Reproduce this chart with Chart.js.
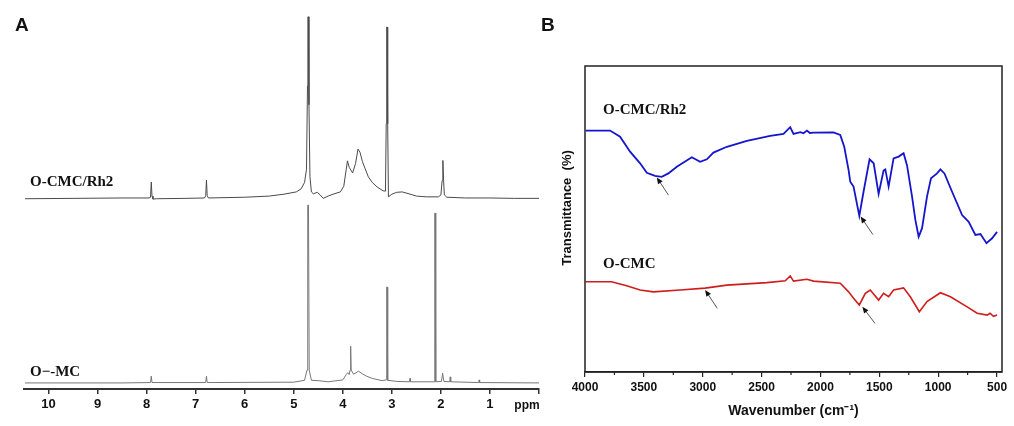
<!DOCTYPE html>
<html>
<head>
<meta charset="utf-8">
<script src="https://cdn.jsdelivr.net/npm/chart.js@4.4.0/dist/chart.umd.min.js"></script>
<style>
  html, body { margin: 0; padding: 0; background: #fff; }
  #wrap { position: relative; width: 1014px; height: 426px; overflow: hidden; }
  canvas { position: absolute; top: 0; }
  #nmr { left: 0; }
  #ftir { left: 540px; }
</style>
</head>
<body>
<div id="wrap">
  <canvas id="nmr" width="545" height="426"></canvas>
  <canvas id="ftir" width="474" height="426"></canvas>
</div>
<script>
// ---- panel A : 1H NMR (ppm / relative intensity, stacked) ----
var rh2Ppm = [10.48, 9.5, 8.5, 7.95, 7.92, 7.905, 7.89, 7.87, 7.8, 7.2, 6.82, 6.795, 6.78, 6.765, 6.74,
  6.0, 5.5, 5.2, 4.95, 4.85, 4.78, 4.74, 4.72, 4.712, 4.70, 4.69, 4.67, 4.64, 4.60, 4.52, 4.46, 4.40,
  4.3, 4.2, 4.05, 3.98, 3.93, 3.905, 3.87, 3.80, 3.74, 3.69, 3.65, 3.60, 3.55, 3.48, 3.40, 3.30, 3.18,
  3.13, 3.115, 3.105, 3.095, 3.085, 3.07, 3.0, 2.9, 2.79, 2.65, 2.5, 2.3, 2.05, 2.0, 1.975, 1.96,
  1.945, 1.93, 1.88, 1.5, 1.0, 0.5, 0.0];
var rh2Int = [50.2, 50.3, 50.4, 50.4, 50.6, 54.6, 50.9, 50.1, 50.2, 50.3, 50.4, 51.0, 55.1, 51.0, 50.4,
  50.6, 50.9, 51.4, 52.0, 52.8, 54.5, 58, 80, 98.2, 98.2, 75, 56, 52, 51.5, 51.9, 51.2, 50.3,
  50.9, 51.4, 52.0, 53.5, 58, 60.2, 58.5, 57.0, 59.5, 63.3, 62.5, 60, 58.3, 56, 54.5, 53.3, 52.3,
  52.2, 70, 95.5, 95.5, 70, 50.7, 51.4, 51.9, 52.0, 51.5, 50.9, 50.7, 50.7, 51.2, 55, 60.3,
  55, 51.2, 50.6, 50.4, 50.4, 50.3, 50.3];

var cmcPpm = [10.48, 8.5, 7.92, 7.905, 7.89, 6.795, 6.78, 6.765, 5.0, 4.78, 4.73, 4.715, 4.70, 4.685,
  4.64, 4.5, 4.3, 4.0, 3.93, 3.90, 3.87, 3.85, 3.84, 3.83, 3.78, 3.68, 3.6, 3.52, 3.4, 3.2, 3.115,
  3.105, 3.095, 3.085, 2.9, 2.64, 2.63, 2.62, 2.14, 2.125, 2.115, 2.105, 1.99, 1.965, 1.94, 1.82,
  1.81, 1.80, 1.23, 1.22, 1.21, 0.0];
var cmcInt = [1.6, 1.6, 1.7, 3.4, 1.7, 1.7, 3.4, 1.7, 1.8, 2.3, 5, 48.5, 48.5, 5,
  2.3, 2.2, 1.9, 2.4, 3.8, 4.3, 3.8, 5, 11.3, 5, 3.9, 4.7, 4.0, 3.4, 2.8, 2.2, 2.4,
  26.9, 26.9, 2.3, 2.0, 1.9, 2.8, 1.9, 1.9, 46.4, 46.4, 1.9, 2.0, 4.2, 2.0, 1.9,
  3.2, 1.9, 1.7, 2.4, 1.7, 1.6];

var ppmTicks = [10, 9, 8, 7, 6, 5, 4, 3, 2, 1, 0];

// ---- panel B : FTIR (wavenumber / transmittance, offset) ----
var rh2Wn = [3994, 3787, 3702, 3617, 3532, 3475, 3405, 3348, 3292, 3220, 3093, 3022, 2965, 2909, 2795,
  2625, 2427, 2314, 2257, 2229, 2170, 2144, 2115, 2090, 2059, 1889, 1832, 1798, 1761, 1747, 1719,
  1670, 1634, 1583, 1548, 1506, 1464, 1449, 1421, 1379, 1336, 1294, 1265, 1222, 1194, 1166, 1137,
  1095, 1061, 1010, 981, 947, 882, 797, 741, 684, 641, 590, 542, 500];
var rh2T = [78.9, 78.9, 76.9, 72.0, 68.2, 65.1, 64.1, 63.8, 64.9, 67.1, 70.2, 68.7, 69.5, 71.7, 73.6,
  75.5, 77.2, 77.8, 80.0, 77.8, 78.4, 78.0, 78.9, 78.1, 78.2, 78.3, 77.5, 73.6, 66.0, 62.2, 60.6,
  51.0, 58.9, 69.5, 68.2, 58.2, 65.8, 66.2, 60.6, 69.8, 70.4, 71.5, 67.6, 57.3, 49.7, 44.2, 47.0,
  57.3, 63.3, 64.9, 66.2, 64.9, 58.9, 51.3, 49.1, 44.8, 45.1, 42.1, 43.7, 45.8];

var cmcWn = [3994, 3775, 3646, 3532, 3419, 3192, 2980, 2795, 2455, 2299, 2257, 2229, 2115, 2059, 1832,
  1761, 1719, 1670, 1619, 1577, 1506, 1464, 1421, 1379, 1294, 1237, 1160, 1095, 981, 896, 754,
  669, 584, 560, 530, 500];
var cmcT = [29.5, 29.5, 28.2, 26.8, 26.2, 26.8, 27.4, 28.4, 29.2, 29.8, 31.4, 29.7, 30.3, 29.7, 29.0,
  26.2, 24.1, 21.9, 25.7, 26.8, 23.5, 25.7, 24.6, 26.8, 27.5, 24.6, 19.7, 23.0, 25.9, 24.6, 21.3,
  19.2, 18.6, 19.2, 18.2, 18.6];

var wnTicks = [4000, 3500, 3000, 2500, 2000, 1500, 1000, 500];

// arrows marking bands: [tail wn, tail T, head wn, head T]
var bandArrows = [
  [3291, 57.8, 3390, 63.6],
  [1554, 44.9, 1659, 50.8],
  [2876, 20.8, 2980, 26.8],
  [1537, 15.9, 1644, 21.3]
];

var SANS = "'Liberation Sans', Arial, sans-serif";
var SERIF = "'Liberation Serif', 'Times New Roman', serif";

function pairs(xs, ys) {
  return xs.map(function(x, i) { return {x: x, y: ys[i]}; });
}

function fixedTicks(list) {
  return function(scale) {
    scale.ticks = list.map(function(v) { return {value: v}; });
  };
}

function text(ctx, str, x, y, font, align) {
  ctx.save();
  ctx.font = font;
  ctx.fillStyle = '#111';
  ctx.textAlign = align || 'left';
  ctx.textBaseline = 'middle';
  ctx.fillText(str, x, y);
  ctx.restore();
}

var nmrDecor = {
  id: 'nmrDecor',
  afterDraw: function(chart) {
    var ctx = chart.ctx;
    text(ctx, 'A', 15, 26, 'bold 19px ' + SANS);
    text(ctx, 'O-CMC/Rh2', 30, 182, 'bold 15px ' + SERIF);
    text(ctx, 'O\u2212-MC', 30, 372, 'bold 15px ' + SERIF);
    text(ctx, 'ppm', 527, 406, 'bold 12px ' + SANS, 'center');
  }
};

var ftirDecor = {
  id: 'ftirDecor',
  afterDraw: function(chart) {
    var ctx = chart.ctx, a = chart.chartArea;
    var xs = chart.scales.x, ys = chart.scales.y;
    ctx.save();
    ctx.strokeStyle = '#222';
    ctx.lineWidth = 1.5;
    ctx.strokeRect(a.left, a.top, a.right - a.left, a.bottom - a.top);

    // minor ticks half way between the labelled ones
    ctx.lineWidth = 1.2;
    ctx.beginPath();
    for (var i = 1; i < xs.ticks.length; i++) {
      var px = xs.getPixelForValue((xs.ticks[i - 1].value + xs.ticks[i].value) / 2);
      ctx.moveTo(px, a.bottom);
      ctx.lineTo(px, a.bottom + 3);
    }
    ctx.stroke();
    ctx.restore();

    bandArrows.forEach(function(d) {
      var x1 = xs.getPixelForValue(d[0]), y1 = ys.getPixelForValue(d[1]);
      var x2 = xs.getPixelForValue(d[2]), y2 = ys.getPixelForValue(d[3]);
      var ang = Math.atan2(y2 - y1, x2 - x1);
      ctx.save();
      ctx.strokeStyle = '#555';
      ctx.lineWidth = 1;
      ctx.beginPath();
      ctx.moveTo(x1, y1);
      ctx.lineTo(x2 - 4 * Math.cos(ang), y2 - 4 * Math.sin(ang));
      ctx.stroke();
      ctx.fillStyle = '#111';
      ctx.beginPath();
      ctx.moveTo(x2, y2);
      ctx.lineTo(x2 - 7 * Math.cos(ang - 0.4), y2 - 7 * Math.sin(ang - 0.4));
      ctx.lineTo(x2 - 7 * Math.cos(ang + 0.4), y2 - 7 * Math.sin(ang + 0.4));
      ctx.closePath();
      ctx.fill();
      ctx.restore();
    });

    text(ctx, 'B', 1, 26, 'bold 19px ' + SANS);
    text(ctx, 'O-CMC/Rh2', 63, 110, 'bold 15px ' + SERIF);
    text(ctx, 'O-CMC', 63, 264, 'bold 15px ' + SERIF);

    ctx.save();
    ctx.translate(27, 208);
    ctx.rotate(-Math.PI / 2);
    text(ctx, 'Transmittance  (%)', 0, 0, 'bold 13px ' + SANS, 'center');
    ctx.restore();
  }
};

new Chart(document.getElementById('nmr'), {
  type: 'scatter',
  data: {
    datasets: [
      { label: 'O-CMC/Rh2', data: pairs(rh2Ppm, rh2Int), showLine: true, borderColor: '#4a4a4a',
        borderWidth: 1, pointRadius: 0, tension: 0 },
      { label: 'O-CMC', data: pairs(cmcPpm, cmcInt), showLine: true, borderColor: '#777',
        borderWidth: 1, pointRadius: 0, tension: 0 }
    ]
  },
  options: {
    responsive: false,
    animation: false,
    devicePixelRatio: 1,
    layout: { padding: { left: 24, right: 6, top: 10, bottom: 0 } },
    plugins: { legend: { display: false }, tooltip: { enabled: false } },
    scales: {
      x: {
        type: 'linear', reverse: true, min: 0, max: 10.5,
        afterBuildTicks: fixedTicks(ppmTicks),
        afterFit: function(s) { s.height = 37; },
        border: { display: true, color: '#333', width: 2 },
        grid: { display: true, drawOnChartArea: false, drawTicks: true, tickLength: 5, color: '#333', lineWidth: 1.5 },
        ticks: {
          autoSkip: false, maxRotation: 0, padding: 3, color: '#111',
          font: { family: "'Liberation Sans Narrow', " + SANS, size: 13, weight: 'bold' },
          callback: function(v) { return v === 0 ? '' : String(v); }
        }
      },
      y: { display: false, min: 0, max: 100 }
    }
  },
  plugins: [nmrDecor]
});

new Chart(document.getElementById('ftir'), {
  type: 'scatter',
  data: {
    datasets: [
      { label: 'O-CMC/Rh2', data: pairs(rh2Wn, rh2T), showLine: true, borderColor: '#1515cc',
        borderWidth: 1.8, pointRadius: 0, tension: 0 },
      { label: 'O-CMC', data: pairs(cmcWn, cmcT), showLine: true, borderColor: '#d01c1c',
        borderWidth: 1.6, pointRadius: 0, tension: 0 }
    ]
  },
  options: {
    responsive: false,
    animation: false,
    devicePixelRatio: 1,
    layout: { padding: { left: 45, right: 12, top: 66, bottom: 0 } },
    plugins: { legend: { display: false }, tooltip: { enabled: false } },
    scales: {
      x: {
        type: 'linear', reverse: true, min: 458, max: 4000,
        afterBuildTicks: fixedTicks(wnTicks),
        afterFit: function(s) { s.height = 54; },
        border: { display: true, color: '#222', width: 1.5 },
        grid: { display: true, drawOnChartArea: false, drawTicks: true, tickLength: 5, color: '#222', lineWidth: 1.2 },
        ticks: {
          autoSkip: false, maxRotation: 0, padding: 3, color: '#111',
          font: { family: SANS, size: 12, weight: 'bold' },
          callback: function(v) { return String(v); }
        },
        title: {
          display: true, text: 'Wavenumber (cm\u207B\u00B9)', color: '#111',
          font: { family: SANS, size: 14, weight: 'bold' },
          padding: { top: 4, bottom: 6 }
        }
      },
      y: { display: false, min: 0, max: 100 }
    }
  },
  plugins: [ftirDecor]
});
</script>
</body>
</html>
